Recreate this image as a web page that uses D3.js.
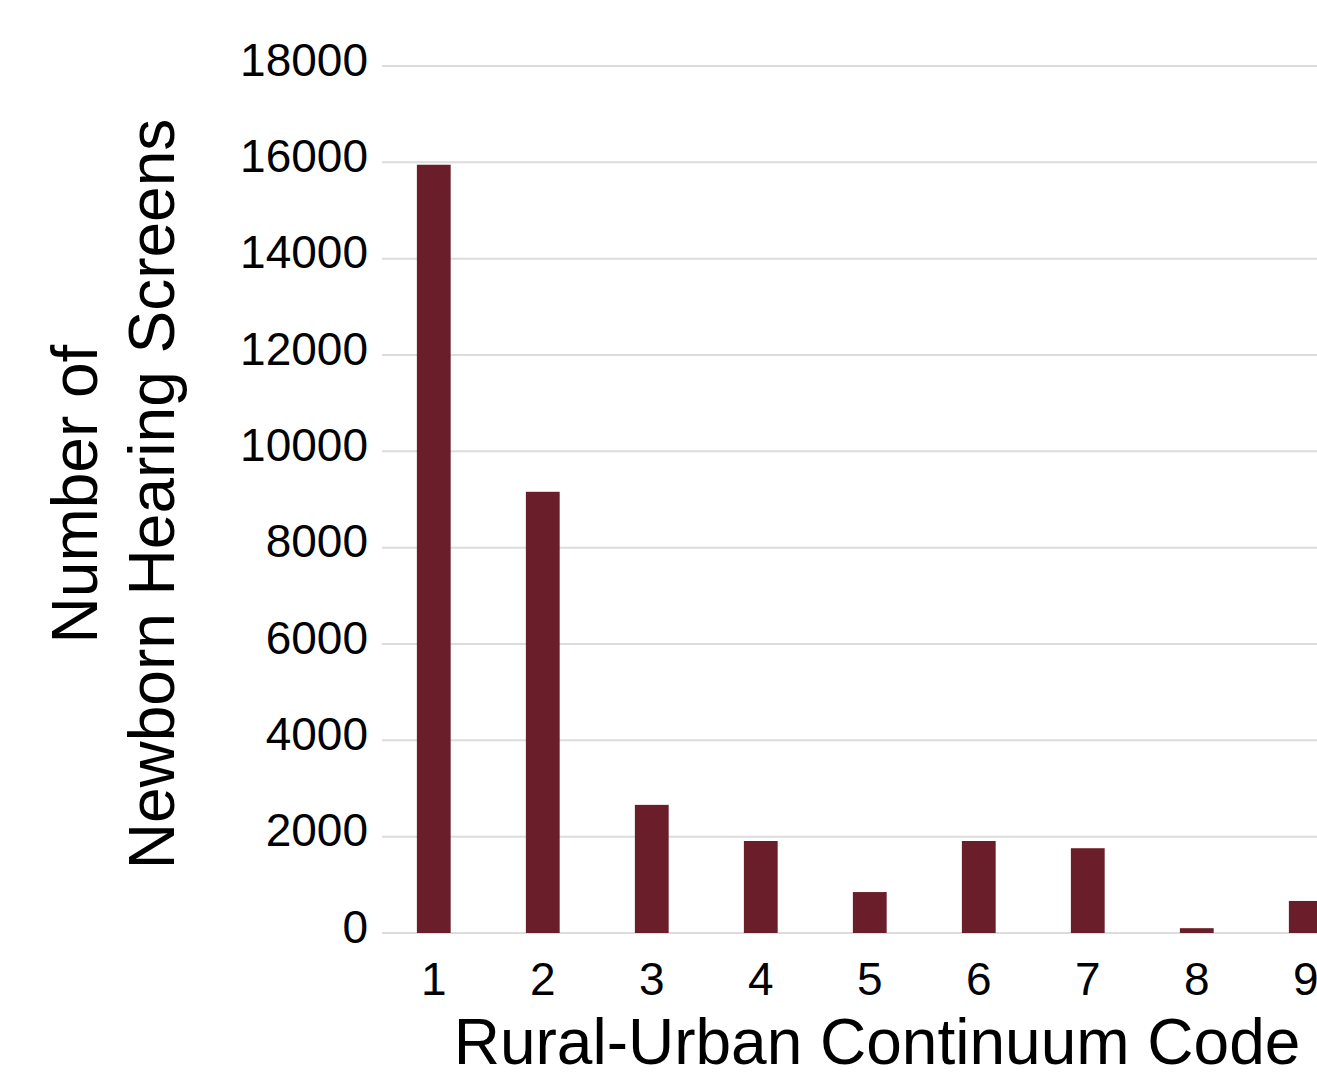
<!DOCTYPE html>
<html>
<head>
<meta charset="utf-8">
<script src="https://cdn.jsdelivr.net/npm/d3@7"></script>
<style>
  html, body { margin: 0; padding: 0; background: #fff; }
  svg { display: block; }
  text { font-family: "Liberation Sans", Arial, sans-serif; fill: #000; }
</style>
</head>
<body>
<script>
const categories = ["1", "2", "3", "4", "5", "6", "7", "8", "9"];
const screens = [15950, 9160, 2660, 1910, 850, 1910, 1760, 100, 665];
const yTicks = [0, 2000, 4000, 6000, 8000, 10000, 12000, 14000, 16000, 18000];
const xTitle = "Rural-Urban Continuum Code";
const yTitleLines = ["Number of", "Newborn Hearing Screens"];

const W = 1317, H = 1078;
const svg = d3.select("body").append("svg").attr("width", W).attr("height", H);

const plotLeft = 382, plotTop = 66, plotBottom = 933;
const step = 109;
const pInner = 0.69, pOuter = 0.32;
const rangeEnd = plotLeft + step * (categories.length - pInner + 2 * pOuter);

const x = d3.scaleBand().domain(categories).range([plotLeft, rangeEnd])
  .paddingInner(pInner).paddingOuter(pOuter);
const y = d3.scaleLinear().domain([0, 18000]).range([plotBottom, plotTop]);

// gridlines
svg.append("g").selectAll("line").data(yTicks).join("line")
  .attr("x1", plotLeft).attr("x2", W + 50)
  .attr("y1", d => y(d)).attr("y2", d => y(d))
  .attr("stroke", "#dcdcdc").attr("stroke-width", 2);

// y axis labels
const yAxis = d3.axisLeft(y).tickValues(yTicks).tickSize(0).tickPadding(14).tickFormat(d3.format("d"));
const gy = svg.append("g").attr("transform", `translate(${plotLeft},0)`).call(yAxis);
gy.select(".domain").remove();
gy.selectAll("text").attr("font-size", 46).attr("dy", "0.2em")
  .style("font-family", "'Liberation Sans', Arial, sans-serif").attr("fill", "#000");

// bars
svg.append("g").selectAll("rect").data(categories).join("rect")
  .attr("x", d => x(d)).attr("width", x.bandwidth())
  .attr("y", (d, i) => y(screens[i]))
  .attr("height", (d, i) => y(0) - y(screens[i]))
  .attr("fill", "#6a1e29");

// x axis labels
const xAxis = d3.axisBottom(x).tickSize(0).tickPadding(0);
const gx = svg.append("g").attr("transform", `translate(0,${plotBottom})`).call(xAxis);
gx.select(".domain").remove();
gx.selectAll("text").attr("font-size", 46).attr("dy", null).attr("y", 62)
  .style("font-family", "'Liberation Sans', Arial, sans-serif").attr("fill", "#000");

// x title
svg.append("text").attr("x", 877).attr("y", 1064)
  .attr("text-anchor", "middle").attr("font-size", 64).text(xTitle);

// y title
const yt = svg.append("text").attr("transform", "translate(97,494) rotate(-90)")
  .attr("text-anchor", "middle").attr("font-size", 64);
yt.append("tspan").attr("x", 0).attr("y", 0).text(yTitleLines[0]);
yt.append("tspan").attr("x", 0).attr("y", 77).text(yTitleLines[1]);
</script>
</body>
</html>
